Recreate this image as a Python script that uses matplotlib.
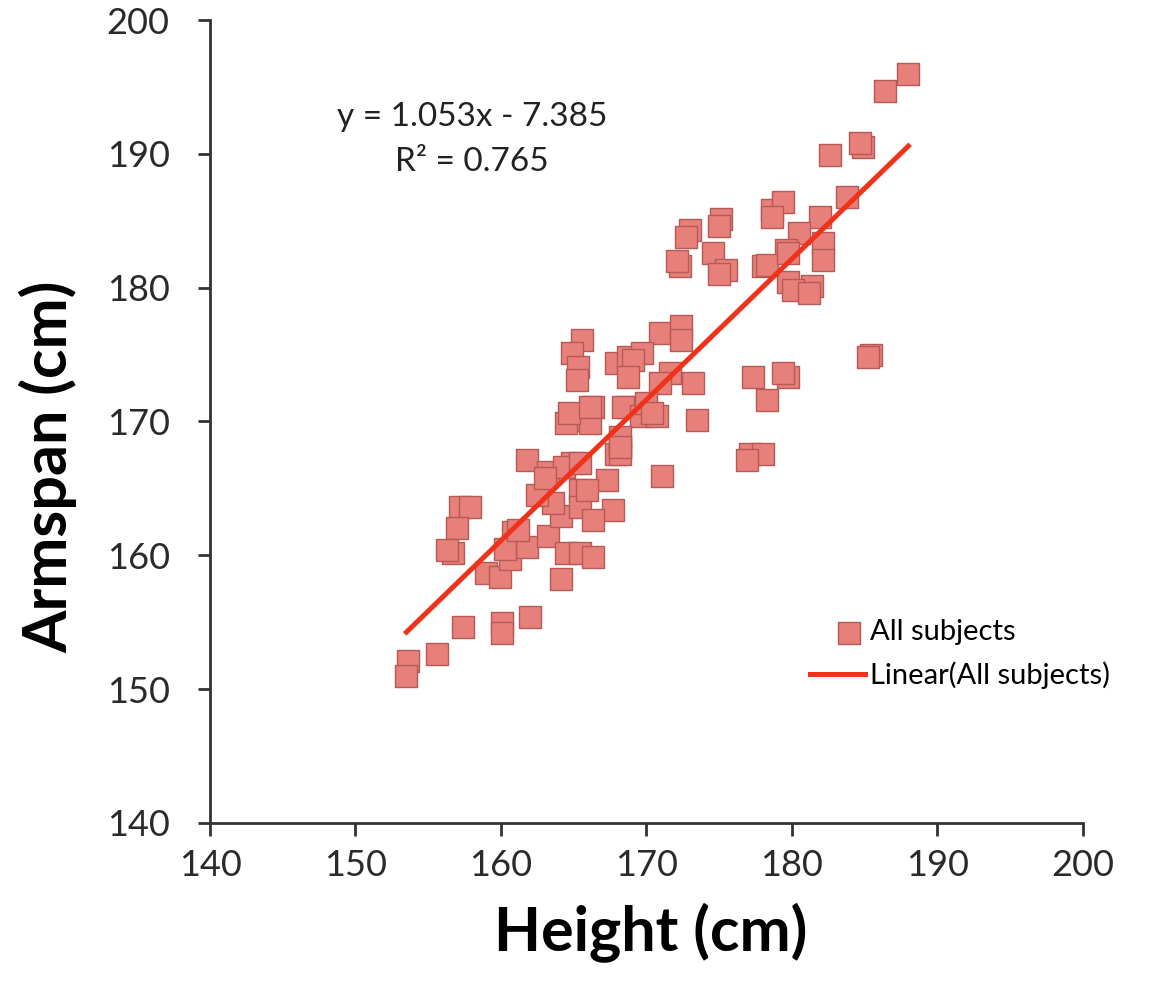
import matplotlib
matplotlib.use("Agg")
import matplotlib.pyplot as plt
from matplotlib.legend_handler import HandlerPathCollection
import numpy as np

plt.rcParams["font.family"] = ["Lato", "DejaVu Sans"]

# height (cm) and armspan (cm)
height = [188.0, 186.4, 182.6, 184.9, 184.7, 183.8, 178.6, 179.4, 178.6, 181.9,
          180.5, 179.6, 182.1, 178.0, 182.1, 179.7, 181.4, 180.1, 181.2, 173.0,
          172.7, 175.1, 175.0, 172.3, 172.1, 174.6, 175.5, 175.0, 178.3, 179.7,
          170.9, 172.4, 172.4, 165.6, 164.9, 165.3, 167.9, 168.7, 169.7, 169.1,
          165.2, 168.7, 171.6, 170.9, 173.2, 177.3, 179.7, 179.4, 178.3, 185.4,
          185.2, 166.3, 168.7, 168.4, 164.9, 166.1, 164.5, 169.6, 170.7, 173.5,
          167.9, 168.2, 177.1, 178.0, 176.9, 171.1, 167.3, 165.4, 164.9, 161.8,
          163.2, 164.3, 165.4, 168.2, 157.2, 157.9, 157.0, 156.7, 156.3, 159.0,
          159.9, 160.6, 160.8, 161.8, 163.2, 164.1, 163.6, 165.4, 165.9, 167.7,
          166.3, 164.5, 165.4, 166.3, 164.1, 157.4, 160.1, 160.1, 162.0, 155.6,
          153.6, 153.5, 170.0, 168.2, 170.4, 164.7, 166.1, 168.2, 162.5, 163.0,
          160.3, 161.2]
armspan = [196.0, 194.7, 189.9, 190.5, 190.8, 186.8, 185.8, 186.4, 185.3, 185.3,
           184.1, 182.8, 183.3, 181.6, 182.1, 180.4, 180.1, 179.8, 179.6, 184.3,
           183.8, 185.1, 184.6, 181.6, 182.0, 182.6, 181.3, 181.0, 181.7, 182.6,
           176.6, 177.1, 176.1, 176.1, 175.1, 174.1, 174.4, 174.8, 175.1, 174.6,
           173.1, 173.3, 173.6, 172.9, 172.9, 173.3, 173.3, 173.6, 171.6, 175.0,
           174.8, 171.1, 171.1, 171.1, 170.1, 169.9, 169.9, 170.4, 170.4, 170.1,
           167.6, 168.1, 167.6, 167.6, 167.1, 165.9, 165.6, 164.9, 166.9, 167.1,
           166.2, 166.6, 166.9, 167.6, 163.6, 163.6, 162.0, 160.2, 160.4, 158.7,
           158.4, 159.7, 161.7, 160.6, 161.4, 162.9, 163.9, 163.6, 164.9, 163.4,
           162.6, 160.2, 160.2, 159.9, 158.2, 154.6, 154.9, 154.2, 155.4, 152.6,
           152.1, 151.0, 171.4, 168.8, 170.6, 170.6, 171.1, 168.1, 164.5, 165.8,
           160.5, 161.9]

slope = 1.053
intercept = -7.385
r_squared = 0.765


# put the legend square near the right end of its handle box, like Excel does
class RightMarker(HandlerPathCollection):
    def get_xdata(self, legend, xdescent, ydescent, width, height, fontsize):
        x = [-xdescent + width - 0.55 * fontsize]
        return x, x


fig = plt.figure(figsize=(11.57, 10.01), dpi=100)
ax = fig.add_axes([0.1815, 0.178, 0.7545, 0.802])

pts = ax.scatter(height, armspan, marker="s", s=260, color="#e77f7a",
                 edgecolors="#b55a56", linewidths=1.0, zorder=2, label="All subjects")

xfit = np.array([min(height), max(height)])
ax.plot(xfit, slope * xfit + intercept, color="#f0321a", lw=3.6, zorder=3,
        label="Linear(All subjects)")

ax.set_xlim(140, 200)
ax.set_ylim(140, 200)
ax.set_xticks(range(140, 201, 10))
ax.set_yticks(range(140, 201, 10))
for s in ["top", "right"]:
    ax.spines[s].set_visible(False)
for s in ["left", "bottom"]:
    ax.spines[s].set_linewidth(2)
    ax.spines[s].set_color("#333333")
ax.tick_params(direction="out", length=9, width=2, color="#333333",
               labelsize=26, labelcolor="#2a2a2a")
ax.tick_params(axis="x", pad=10)
ax.tick_params(axis="y", pad=20)

ax.set_xlabel("Height (cm)", fontsize=44, fontweight="bold")
ax.set_ylabel("Armspan (cm)", fontsize=44, fontweight="bold")
ax.xaxis.set_label_coords(0.505, -0.1)
ax.yaxis.set_label_coords(-0.152, 0.443)

ax.text(0.30, 0.851, "y = %.3fx - %.3f\nR² = %.3f" % (slope, -intercept, r_squared),
        transform=ax.transAxes, ha="center", va="center", fontsize=24,
        linespacing=1.65, color="#222222")

ax.legend(loc="upper left", bbox_to_anchor=(0.69, 0.393), bbox_transform=fig.transFigure,
          frameon=False, fontsize=21, handlelength=1.9, handletextpad=0.15,
          labelspacing=0.55, borderaxespad=0, handler_map={pts: RightMarker()})

fig.savefig("out.png")
